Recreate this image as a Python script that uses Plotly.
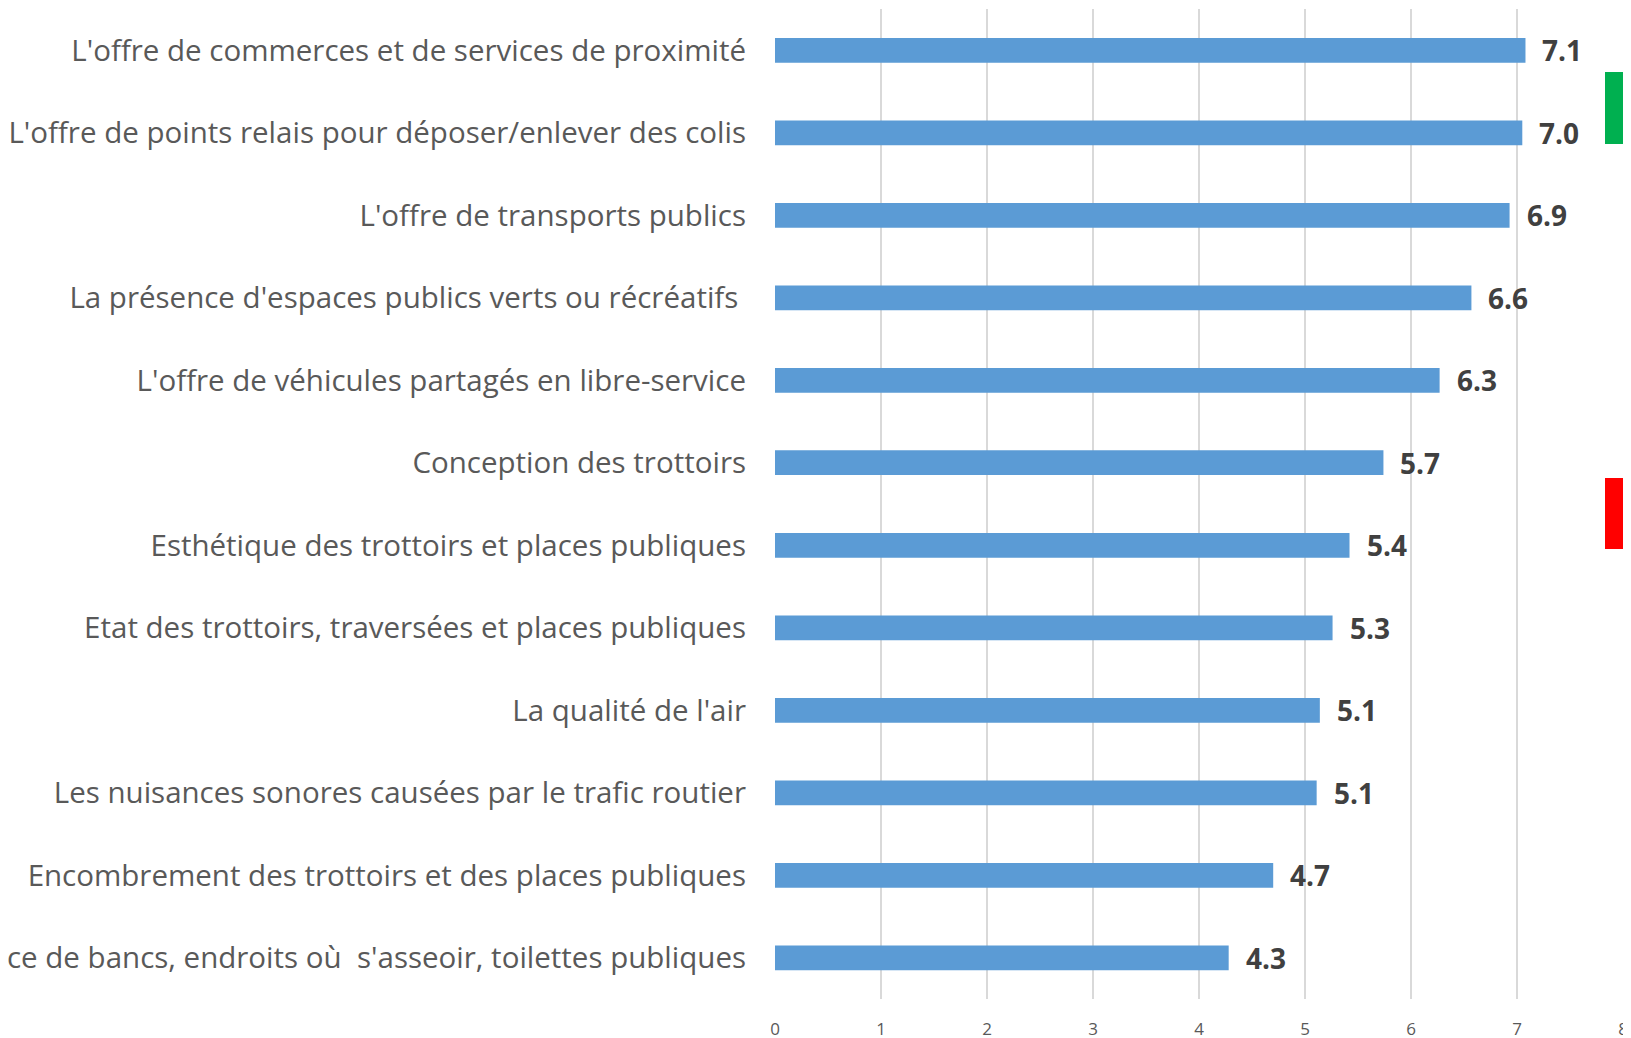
import plotly.graph_objects as go

categories = [
    "L'offre de commerces et de services de proximité",
    "L'offre de points relais pour déposer/enlever des colis",
    "L'offre de transports publics",
    "La présence d'espaces publics verts ou récréatifs\u00a0",
    "L'offre de véhicules partagés en libre-service",
    "Conception des trottoirs",
    "Esthétique des trottoirs et places publiques",
    "Etat des trottoirs, traversées et places publiques",
    "La qualité de l'air",
    "Les nuisances sonores causées par le trafic routier",
    "Encombrement des trottoirs et des places publiques",
    "Présence de bancs, endroits où\u00a0 s'asseoir, toilettes publiques",
]
values = [7.08, 7.05, 6.93, 6.57, 6.27, 5.74, 5.42, 5.26, 5.14, 5.11, 4.70, 4.28]
value_labels = ["7.1", "7.0", "6.9", "6.6", "6.3", "5.7", "5.4", "5.3", "5.1", "5.1", "4.7", "4.3"]
x_ticks = [0, 1, 2, 3, 4, 5, 6, 7, 8]

# page has an 8px body margin; figure is drawn from (8, 8)
OFF = 8
W, H = 1631 - OFF, 1038 - OFF
L = 775 - OFF
T = 9 - OFF
R = W - (1623 - OFF)
B = H - (999 - OFF)
ph = H - T - B
pw = W - L - R

def py(y):
    return 1 - (y - OFF - T) / ph

def px(x):
    return (x - OFF - L) / pw

fig = go.Figure()
fig.add_trace(go.Bar(
    x=values, y=categories, orientation="h",
    marker=dict(color="#5B9BD5", line=dict(width=0)),
    width=0.3,
    hoverinfo="x+y",
))

annotations = []
for c, v, lab in zip(categories, values, value_labels):
    annotations.append(dict(
        x=v, y=c, xref="x", yref="y", text=f"<b>{lab}</b>",
        showarrow=False, xanchor="left", yanchor="middle", xshift=15,
        font=dict(family="Open Sans", size=28, color="#404040"),
    ))

shapes = [
    dict(type="rect", xref="paper", yref="paper", x0=px(1605), x1=px(1660),
         y0=py(144), y1=py(72), fillcolor="#00B050", line=dict(width=0), layer="above"),
    dict(type="rect", xref="paper", yref="paper", x0=px(1605), x1=px(1660),
         y0=py(549), y1=py(478), fillcolor="#FF0000", line=dict(width=0), layer="above"),
]

fig.update_layout(
    width=W, height=H,
    margin=dict(l=L, r=R, t=T, b=B, autoexpand=False),
    paper_bgcolor="white", plot_bgcolor="white",
    showlegend=False,
    annotations=annotations,
    shapes=shapes,
    xaxis=dict(
        range=[0, 8], tickvals=x_ticks, ticktext=[str(t) for t in x_ticks],
        showgrid=True, gridcolor="#D9D9D9", gridwidth=2,
        zeroline=False, showline=False,
        tickfont=dict(family="Open Sans", size=17, color="#595959"),
        ticks="", ticklabelstandoff=18, automargin=False,
    ),
    yaxis=dict(
        categoryorder="array", categoryarray=categories, autorange="reversed",
        showgrid=False, zeroline=False, showline=False,
        tickfont=dict(family="Open Sans", size=29.5, color="#595959"),
        ticks="", ticklabelstandoff=28, automargin=False,
    ),
)

fig.write_html("out.html")
